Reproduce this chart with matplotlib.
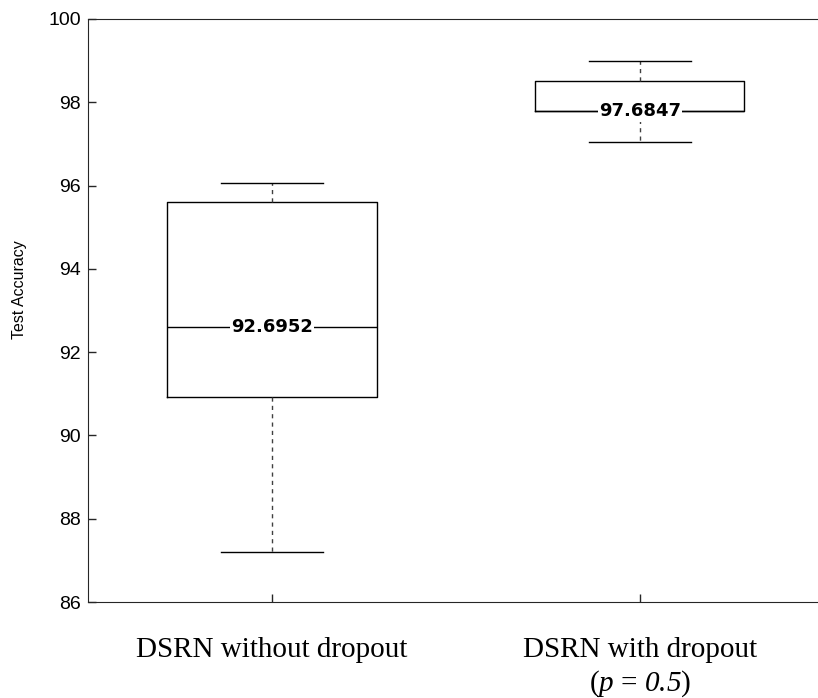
import matplotlib.pyplot as plt

# box statistics
groups = ["DSRN without dropout", "DSRN with dropout\n($\\mathsf{p}$ = $\\mathsf{0.5}$)"]
whis_lo = [87.2, 97.05]
q1 = [90.92, 97.78]
medians = [92.6, 97.78]
q3 = [95.6, 98.52]
whis_hi = [96.06, 99.0]
median_labels = ["92.6952", "97.6847"]
yticks = [86, 88, 90, 92, 94, 96, 98, 100]

# italic serif for the p and 0.5 in the second group label
plt.rcParams["mathtext.fontset"] = "custom"
plt.rcParams["mathtext.rm"] = "Liberation Serif"
plt.rcParams["mathtext.sf"] = "Liberation Serif:italic"

fig = plt.figure(figsize=(8.18, 6.98), dpi=100)
ax = fig.add_axes([0.1076, 0.1375, 0.8997, 0.8353])

stats = []
for i in range(len(groups)):
    stats.append({"med": medians[i], "q1": q1[i], "q3": q3[i],
                  "whislo": whis_lo[i], "whishi": whis_hi[i], "fliers": []})

ax.bxp(stats, positions=[1, 2], widths=0.568, showfliers=False,
       boxprops=dict(color="black", linewidth=1.0),
       medianprops=dict(color="black", linewidth=1.0),
       whiskerprops=dict(color="#404040", linewidth=1.0, linestyle=(0, (3, 3))),
       capprops=dict(color="black", linewidth=1.0),
       capwidths=0.277)

for i, lab in enumerate(median_labels):
    ax.text(i + 1, medians[i], lab, ha="center", va="center",
            fontsize=13, fontweight="bold", family="DejaVu Sans",
            bbox=dict(facecolor="white", edgecolor="none", pad=1))

ax.set_xlim(0.5, 2.5)
ax.set_ylim(86, 100)
ax.set_yticks(yticks)
ax.set_xticks([1, 2])
ax.set_xticklabels(groups, family="Liberation Serif", fontsize=21, linespacing=1.25)
for lbl in ax.get_yticklabels():
    lbl.set_family("Liberation Sans")
    lbl.set_fontsize(14)

ax.tick_params(axis="both", direction="in", length=6, width=1, color="#262626")
ax.tick_params(axis="x", pad=25)
ax.tick_params(axis="y", pad=5)
for s in ["left", "top", "bottom"]:
    ax.spines[s].set_color("#262626")
ax.spines["right"].set_visible(False)

ax.set_ylabel("Test Accuracy", family="Liberation Sans", fontsize=11.5)
ax.yaxis.set_label_coords(-0.083, 0.535)

fig.savefig("out.png", dpi=100)
